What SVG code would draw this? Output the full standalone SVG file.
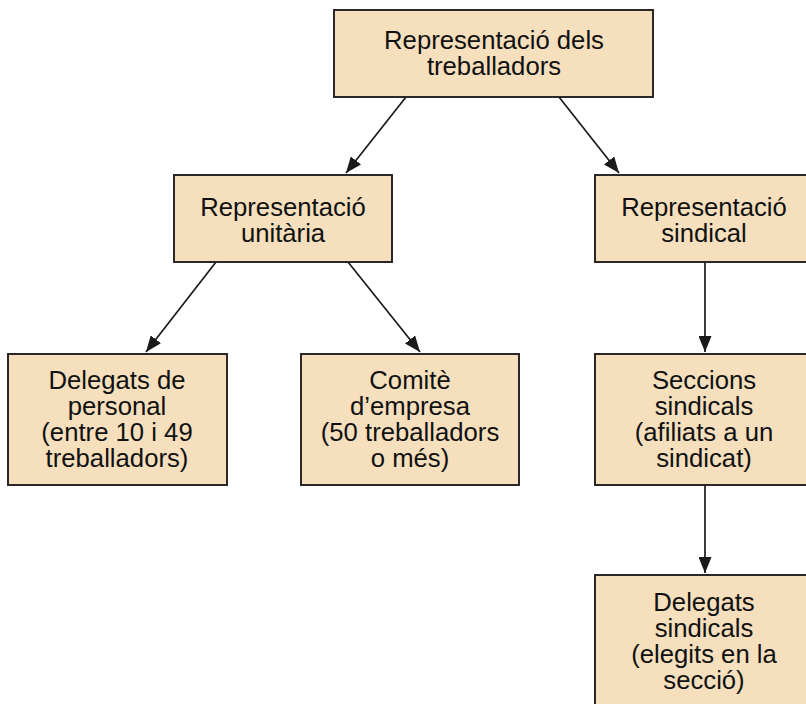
<svg xmlns="http://www.w3.org/2000/svg" width="806" height="704" viewBox="0 0 806 704">
<defs>
<marker id="arr" viewBox="0 0 16 13" refX="16" refY="6.5" markerWidth="16" markerHeight="13" markerUnits="userSpaceOnUse" orient="auto">
<path d="M0,0 L16,6.5 L0,13 Z" fill="#1a1a1a"/>
</marker>
<style>
.box{fill:#f5dfbd;stroke:#231f20;stroke-width:1.9}
.t{font-family:"Liberation Sans",Arial,sans-serif;font-size:25.7px;fill:#111;text-anchor:middle}
.e{stroke:#1a1a1a;stroke-width:1.7;fill:none;marker-end:url(#arr)}
</style>
</defs>
<rect width="806" height="704" fill="#fff"/>
<g id="connectors">
<line class="e" x1="406" y1="97" x2="346" y2="173"/>
<line class="e" x1="559" y1="97" x2="619" y2="173"/>
<line class="e" x1="216" y1="262" x2="146" y2="352"/>
<line class="e" x1="348" y1="262" x2="420" y2="352"/>
<line class="e" x1="705" y1="262" x2="705" y2="352"/>
<line class="e" x1="705" y1="485" x2="705" y2="573"/>
</g>
<g id="n_top">
<rect class="box" x="334" y="10" width="319" height="87"/>
<text class="t" x="494" y="49">Representació dels</text>
<text class="t" x="494" y="75">treballadors</text>
</g>
<g id="n_unitaria">
<rect class="box" x="174" y="175" width="218" height="87"/>
<text class="t" x="283" y="216">Representació</text>
<text class="t" x="283" y="242">unitària</text>
</g>
<g id="n_sindical">
<rect class="box" x="595" y="175" width="218" height="87"/>
<text class="t" x="704" y="216">Representació</text>
<text class="t" x="704" y="242">sindical</text>
</g>
<g id="n_delegats_personal">
<rect class="box" x="8" y="354" width="219" height="131"/>
<text class="t" x="117" y="389">Delegats de</text>
<text class="t" x="117" y="415">personal</text>
<text class="t" x="117" y="441">(entre 10 i 49</text>
<text class="t" x="117" y="467">treballadors)</text>
</g>
<g id="n_comite">
<rect class="box" x="301" y="354" width="218" height="131"/>
<text class="t" x="410" y="389">Comitè</text>
<text class="t" x="410" y="415">d’empresa</text>
<text class="t" x="410" y="441">(50 treballadors</text>
<text class="t" x="410" y="467">o més)</text>
</g>
<g id="n_seccions">
<rect class="box" x="595" y="354" width="218" height="131"/>
<text class="t" x="704" y="389">Seccions</text>
<text class="t" x="704" y="415">sindicals</text>
<text class="t" x="704" y="441">(afiliats a un</text>
<text class="t" x="704" y="467">sindicat)</text>
</g>
<g id="n_delegats_sindicals">
<rect class="box" x="595" y="575" width="218" height="135"/>
<text class="t" x="704" y="611">Delegats</text>
<text class="t" x="704" y="637">sindicals</text>
<text class="t" x="704" y="663">(elegits en la</text>
<text class="t" x="704" y="689">secció)</text>
</g>
</svg>
